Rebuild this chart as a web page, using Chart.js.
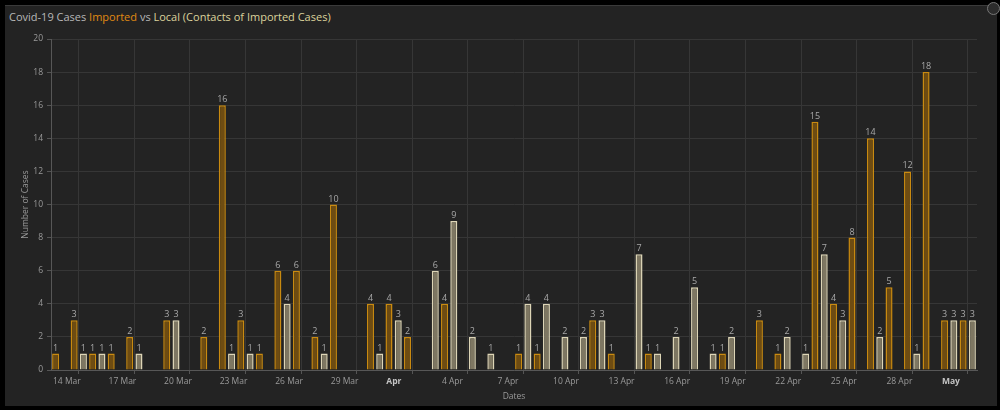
<!DOCTYPE html>
<html>
<head>
<meta charset="utf-8">
<script src="https://cdn.jsdelivr.net/npm/chart.js@4.4.0/dist/chart.umd.min.js"></script>
<style>
    html, body { margin: 0; padding: 0; background: #000; }
    #panel { position: absolute; left: 5px; top: 5px; width: 992px; height: 400px; background: #232323; border-top: 1px solid #3a3a3a; }
    #title { position: absolute; left: 9px; top: 9px; font-family: 'Open Sans', sans-serif; font-size: 11px; color: #b8b8b8; white-space: nowrap; }
    #title .imp { color: #e08a12; }
    #title .loc { color: #dcd39c; }
    #icon { position: absolute; left: 987px; top: 2px; width: 11px; height: 11px; border-radius: 50%; border: 1px solid #777; background: #2c2c2c; }
    #wrap { position: absolute; left: 0; top: 0; width: 1000px; height: 410px; }
</style>
</head>
<body>
<div id="panel"></div>
<div id="title">Covid-19 Cases <span class="imp">Imported</span> vs <span class="loc">Local (Contacts of Imported Cases)</span></div>
<div id="icon"></div>
<div id="wrap"><canvas id="chartCanvas" width="1000" height="410"></canvas></div>
<script>
// one entry per day, starting 14 Mar
let days = ['14 Mar', '15 Mar', '16 Mar', '17 Mar', '18 Mar', '19 Mar', '20 Mar', '21 Mar', '22 Mar', '23 Mar',
    '24 Mar', '25 Mar', '26 Mar', '27 Mar', '28 Mar', '29 Mar', '30 Mar', '31 Mar', '1 Apr', '2 Apr',
    '3 Apr', '4 Apr', '5 Apr', '6 Apr', '7 Apr', '8 Apr', '9 Apr', '10 Apr', '11 Apr', '12 Apr',
    '13 Apr', '14 Apr', '15 Apr', '16 Apr', '17 Apr', '18 Apr', '19 Apr', '20 Apr', '21 Apr', '22 Apr',
    '23 Apr', '24 Apr', '25 Apr', '26 Apr', '27 Apr', '28 Apr', '29 Apr', '30 Apr', '1 May', '2 May'];

let imported = [1, 3, 1, 1, 2, 0, 3, 0, 2, 16,
    3, 1, 6, 6, 2, 10, 0, 4, 4, 2,
    0, 4, 0, 0, 0, 1, 1, 0, 0, 3,
    1, 0, 1, 0, 0, 0, 1, 0, 3, 1,
    0, 15, 4, 8, 14, 5, 12, 18, 3, 3];

let local = [0, 1, 1, 0, 1, 0, 3, 0, 0, 1,
    1, 0, 4, 0, 1, 0, 0, 1, 3, 0,
    6, 9, 2, 1, 0, 4, 4, 2, 2, 3,
    0, 7, 1, 2, 5, 1, 2, 0, 0, 2,
    1, 7, 3, 0, 2, 0, 1, 0, 3, 3];

// x tick labels every 3 days; month starts shown bold
let tickLabels = ['14 Mar', '17 Mar', '20 Mar', '23 Mar', '26 Mar', '29 Mar', 'Apr', '4 Apr', '7 Apr',
    '10 Apr', '13 Apr', '16 Apr', '19 Apr', '22 Apr', '25 Apr', '28 Apr', 'May'];

let toPoints = function (values) {
    return values.map(function (v, i) {
        return { x: i + 0.5, y: v > 0 ? v : null };
    });
};

let isMonth = function (label) {
    return label === 'Apr' || label === 'May';
};

let valueLabels = {
    id: 'valueLabels',
    afterDatasetsDraw: function (chart) {
        let ctx = chart.ctx;
        ctx.save();
        ctx.font = '9px "Open Sans", sans-serif';
        ctx.fillStyle = '#a8a8a8';
        ctx.textAlign = 'center';
        ctx.textBaseline = 'bottom';
        chart.data.datasets.forEach(function (ds, di) {
            let meta = chart.getDatasetMeta(di);
            meta.data.forEach(function (bar, i) {
                let v = ds.data[i].y;
                if (v) ctx.fillText(v, bar.x, bar.y - 1);
            });
        });
        ctx.restore();
    }
};

let gridStyle = { color: '#363636', borderDash: [2, 3], tickLength: 4, tickColor: '#555', tickBorderDash: [] };

let ctx = document.getElementById('chartCanvas').getContext('2d');

window.casesChart = new Chart(ctx, {
    type: 'bar',
    data: {
        datasets: [{
            label: 'Imported',
            data: toPoints(imported),
            backgroundColor: '#6e4c12',
            borderColor: '#c98a10',
            borderWidth: 1.5
        }, {
            label: 'Local',
            data: toPoints(local),
            backgroundColor: '#7e7762',
            borderColor: '#ddd5b6',
            borderWidth: 1.5
        }]
    },
    options: {
        responsive: false,
        animation: false,
        layout: { padding: { top: 39, right: 23, left: 0, bottom: 0 } },
        plugins: {
            legend: { display: false },
            tooltip: { enabled: false }
        },
        datasets: {
            bar: { categoryPercentage: 1.0, barPercentage: 0.76 }
        },
        scales: {
            x: {
                type: 'linear',
                offset: false,
                min: 0,
                max: days.length,
                afterFit: function (scale) { scale.height = 40; },
                afterBuildTicks: function (scale) {
                    // one tick every 3 days, matching tickLabels
                    scale.ticks = tickLabels.map(function (l, i) { return { value: i * 3 }; });
                },
                ticks: {
                    align: 'start',
                    labelOffset: 2,
                    maxRotation: 0,
                    autoSkip: false,
                    padding: 2,
                    color: function (c) {
                        return isMonth(tickLabels[c.index]) ? '#c4c4c4' : '#9a9a9a';
                    },
                    font: function (c) {
                        return { family: '"Open Sans", sans-serif', size: 8.5, weight: isMonth(tickLabels[c.index]) ? 'bold' : 'normal' };
                    },
                    callback: function (value, index) { return tickLabels[index]; }
                },
                grid: gridStyle,
                border: { color: '#575757', width: 1 },
                title: {
                    display: true,
                    text: 'Dates',
                    color: '#9a9a9a',
                    font: { family: '"Open Sans", sans-serif', size: 8.5 },
                    padding: { top: 0, bottom: 8 }
                }
            },
            y: {
                min: 0,
                max: 20,
                afterFit: function (scale) { scale.width = 51; },
                ticks: {
                    stepSize: 2,
                    padding: 4,
                    color: '#9a9a9a',
                    font: { family: '"Open Sans", sans-serif', size: 8.5 }
                },
                grid: gridStyle,
                border: { color: '#575757', width: 1 },
                title: {
                    display: true,
                    text: 'Number of Cases',
                    color: '#9a9a9a',
                    font: { family: '"Open Sans", sans-serif', size: 8.5 },
                    padding: { top: 20, bottom: 0 }
                }
            }
        }
    },
    plugins: [valueLabels]
});
</script>
</body>
</html>
